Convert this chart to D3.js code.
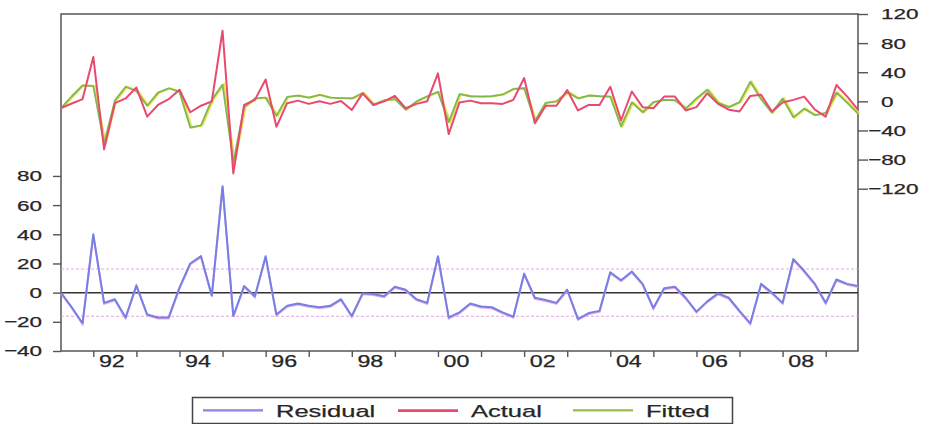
<!DOCTYPE html>
<html>
<head>
<meta charset="utf-8">
<script src="https://cdn.jsdelivr.net/npm/d3@7"></script>
<style>
  body { margin: 0; background: #fff; }
  text { font-family: "Liberation Sans", Arial, sans-serif; fill: #262626; stroke: #262626; stroke-width: 0.25px; }
</style>
</head>
<body>
<script>
// quarterly, 1991Q2 .. 2009Q4
var quarters = [];
for (var yr = 1991; yr <= 2009; yr++) {
  for (var q = 1; q <= 4; q++) {
    if (yr == 1991 && q < 2) continue;
    quarters.push(yr + 'Q' + q);
  }
}

var residual = [0, -10, -21, 40, -7, -4.5, -17, 5, -15, -17,
  -17, 3.5, 20, 25, -2, 73, -16, 4.5, -2.5, 25,
  -15, -9, -7.5, -9, -10, -9, -4.5, -16, -0.5, -1,
  -2.5, 4, 2, -4.5, -7, 25, -17, -13.5, -7.5, -9.5,
  -10, -13.5, -16.5, 13, -3.5, -5, -7, 2, -18, -14,
  -12.5, 14, 8.5, 14.5, 6, -10.5, 3, 4, -3.5, -13,
  -6, -0.5, -3.5, -12.5, -21, 6, 0, -7, 23, 15,
  6, -7, 9, 6, 4.5];

var actual = [-9.4, -3, 3, 61, -66, -2.5, 4, 19, -21, -5,
  3, 16, -15, -6, 0, 97, -99, -5, 2, 30,
  -35, -2.5, 1, -3.5, 0, -3.5, 0.5, -12, 11, -5,
  0, 7.5, -9.5, -3.5, 0, 38.5, -45, -1.5, 1, -2.5,
  -2.5, -3.5, 2, 32, -30, -6, -6, 15.5, -12.5, -5,
  -5, 20, -26, 13.5, -8, -9.5, 6.5, 6.5, -12.5, -8,
  11, -3.5, -11.5, -14, 7.5, 9, -14, -1.5, 2, 6.5,
  -11.5, -21, 22.5, 6.5, -11.5];

var fitted = [-9.4, 7, 22, 21, -58, 1, 20, 14, -6, 12,
  18, 13, -36, -33, 2, 23, -84, -8, 4, 5,
  -20, 6, 8, 5, 9, 5, 4.5, 4, 11.5, -4.5,
  1.5, 3, -11.5, 0, 7, 13, -28.5, 10, 7, 6.5,
  7, 9.5, 17, 18, -27, -2, 0, 13, 4, 8,
  7, 6.5, -34.5, -1.5, -15, -1, 2, 1.5, -10, 4,
  16, -2, -8, -1, 27, 3, -15.5, 4, -22, -10,
  -19, -16, 12, -2, -17];

var leftTicks = [-40, -20, 0, 20, 40, 60, 80];
var rightTicks = [-120, -80, -40, 0, 40, 80, 120];
var yearLabels = ['92', '94', '96', '98', '00', '02', '04', '06', '08'];
var seBand = 16.2;   // residual std. error lines
var legendNames = ['Residual', 'Actual', 'Fitted'];

var W = 933, H = 424;
var box = {left: 61, right: 858, top: 14, bottom: 351};
var stretch = 1.45;

var svg = d3.select('body').append('svg')
    .attr('width', W)
    .attr('height', H);

var x = d3.scalePoint()
    .domain(quarters)
    .range([box.left, box.right]);

var yL = d3.scaleLinear()
    .domain([-40, 191])
    .range([box.bottom, box.top]);

var yR = d3.scaleLinear()
    .domain([-343, 120])
    .range([box.bottom, box.top]);

// widen text like the scanned picture
function widen(sel, k) {
  sel.each(function () {
    var w = this.getComputedTextLength();
    this.setAttribute('textLength', w * (k || stretch));
    this.setAttribute('lengthAdjust', 'spacingAndGlyphs');
  });
}

// frame
svg.append('rect')
    .attr('x', box.left).attr('y', box.top)
    .attr('width', box.right - box.left)
    .attr('height', box.bottom - box.top)
    .attr('fill', 'none')
    .attr('stroke', '#555')
    .attr('stroke-width', 1.5);

// +/- std error lines and zero line
svg.selectAll('.se')
  .data([seBand, -seBand])
  .enter()
  .append('line')
  .attr('class', 'se')
  .attr('x1', box.left).attr('x2', box.right)
  .attr('y1', function (d) { return yL(d); })
  .attr('y2', function (d) { return yL(d); })
  .attr('stroke', '#e6a6e8')
  .attr('stroke-width', 1)
  .attr('stroke-dasharray', '3,2');

svg.append('line')
    .attr('x1', box.left).attr('x2', box.right)
    .attr('y1', yL(0)).attr('y2', yL(0))
    .attr('stroke', '#333')
    .attr('stroke-width', 1.5);

// axes
var leftAxis = d3.axisLeft(yL).tickValues(leftTicks).tickSize(8).tickPadding(11);
var gL = svg.append('g')
    .attr('transform', 'translate(' + box.left + ',0)')
    .call(leftAxis);

var rightAxis = d3.axisRight(yR).tickValues(rightTicks).tickSize(10).tickPadding(13);
var gR = svg.append('g')
    .attr('transform', 'translate(' + box.right + ',0)')
    .call(rightAxis);

var q1 = quarters.filter(function (d) { return /Q1$/.test(d); });
var bottomAxis = d3.axisBottom(x).tickValues(q1).tickSize(6).tickFormat('');
var gB = svg.append('g')
    .attr('transform', 'translate(0,' + box.bottom + ')')
    .call(bottomAxis);

var labelQ = q1.filter(function (d) { return (+d.slice(0, 4)) % 2 == 0; });
var labelAxis = d3.axisBottom(x).tickValues(labelQ).tickSize(0).tickPadding(5)
    .tickFormat(function (d) { return d.slice(2, 4); });
var gB2 = svg.append('g')
    .attr('transform', 'translate(18,' + box.bottom + ')')
    .call(labelAxis);
gB2.select('.domain').remove();

[gL, gR, gB, gB2].forEach(function (g) {
  g.select('.domain').attr('stroke', 'none');
  g.selectAll('line').attr('stroke', '#555').attr('stroke-width', 1.4);
  g.selectAll('text')
    .attr('font-size', '15.5px')
    .attr('font-family', '"Liberation Sans", Arial, sans-serif')
    .attr('fill', '#262626');
});
gB2.selectAll('text').attr('font-size', '16px');
gR.selectAll('text')
  .filter(function (d) { return d < 0; })
  .attr('x', 10);

[gL, gR, gB2].forEach(function (g) { widen(g.selectAll('text')); });

// series
var line = function (yScale) {
  return d3.line()
    .x(function (d, i) { return x(quarters[i]); })
    .y(function (d) { return yScale(d); });
};

// residual (blue with a pink fringe)
svg.append('path').datum(residual)
    .attr('d', line(yL))
    .attr('transform', 'translate(0,1)')
    .attr('fill', 'none').attr('stroke', '#e8a8ee').attr('stroke-width', 2);
svg.append('path').datum(residual)
    .attr('d', line(yL))
    .attr('fill', 'none').attr('stroke', '#7480e2').attr('stroke-width', 2)
    .attr('stroke-linejoin', 'round');

// fitted (green with yellow fringe)
svg.append('path').datum(fitted)
    .attr('d', line(yR))
    .attr('transform', 'translate(1.5,0)')
    .attr('fill', 'none').attr('stroke', '#ece24e').attr('stroke-width', 2);
svg.append('path').datum(fitted)
    .attr('d', line(yR))
    .attr('fill', 'none').attr('stroke', '#7fb852').attr('stroke-width', 1.8)
    .attr('stroke-linejoin', 'round');

// actual
svg.append('path').datum(actual)
    .attr('d', line(yR))
    .attr('fill', 'none').attr('stroke', '#e9496f').attr('stroke-width', 2)
    .attr('stroke-linejoin', 'round');

// legend
var legend = svg.append('g');
legend.append('rect')
    .attr('x', 192.5).attr('y', 397.5)
    .attr('width', 540).attr('height', 26)
    .attr('fill', '#fff')
    .attr('stroke', '#444')
    .attr('stroke-width', 1.5);

var legColors = [['#7480e2', '#e8a8ee'], ['#e9496f', '#e9496f'], ['#7fb852', '#ece24e']];
var legX = [203, 398, 573];
legendNames.forEach(function (name, i) {
  legend.append('line')
    .attr('x1', legX[i]).attr('x2', legX[i] + 60)
    .attr('y1', 411).attr('y2', 411)
    .attr('stroke', legColors[i][1]).attr('stroke-width', 2);
  legend.append('line')
    .attr('x1', legX[i]).attr('x2', legX[i] + 60)
    .attr('y1', 410).attr('y2', 410)
    .attr('stroke', legColors[i][0]).attr('stroke-width', 1.6);
  legend.append('text')
    .attr('x', legX[i] + 73).attr('y', 417)
    .attr('font-size', '17px')
    .text(name);
});
widen(legend.selectAll('text'), 1.5);
</script>
</body>
</html>
